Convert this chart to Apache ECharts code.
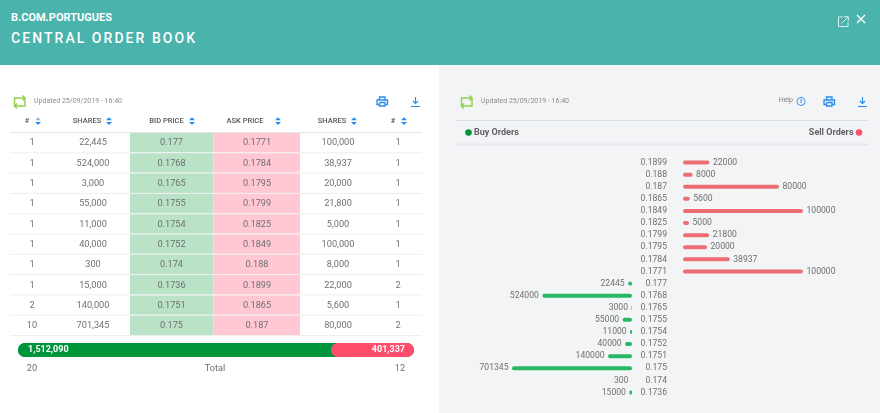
<!DOCTYPE html>
<html>
<head>
<meta charset="utf-8">
<title>Central Order Book</title>
<style>
html, body { margin: 0; padding: 0; background: #fff; overflow: hidden; }
#main { position: absolute; left: 0; top: 0; width: 880px; height: 413px; }
#head { position: absolute; left: 0; top: 0; width: 880px; height: 65px; background: #4ab3ac; color: #fff; font-family: Roboto, sans-serif; }
#head .t1 { position: absolute; left: 11px; top: 11px; font-size: 11px; font-weight: 700; letter-spacing: 0; }
#head .t2 { position: absolute; left: 11px; top: 30px; font-size: 14px; font-weight: 500; letter-spacing: 2.05px; }
#head svg { position: absolute; }
</style>
<script src="https://cdn.jsdelivr.net/npm/echarts@6/dist/echarts.min.js"></script>
</head>
<body>
<div id="main"></div>
<div id="head">
  <div class="t1">B.COM.PORTUGUES</div>
  <div class="t2">CENTRAL ORDER BOOK</div>
  <svg style="left:838px;top:16px" width="11" height="11" viewBox="0 0 11 11" fill="none" stroke="#d5f0ee" stroke-width="1"><path d="M5 1H.5v9.5H10V6"/><path d="M3.5 7.5L10 1M6 .7h4.3V5"/></svg>
  <svg style="left:856px;top:14px" width="10" height="10" viewBox="0 0 10 10" fill="none" stroke="#fff" stroke-width="1.3"><path d="M1 1l8 8M9 1l-8 8"/></svg>
</div>
<script>
// table columns
var bidCount = [1, 1, 1, 1, 1, 1, 1, 1, 2, 10];
var bidShares = [22445, 524000, 3000, 55000, 11000, 40000, 300, 15000, 140000, 701345];
var bidPrice = ['0.177', '0.1768', '0.1765', '0.1755', '0.1754', '0.1752', '0.174', '0.1736', '0.1751', '0.175'];
var askPrice = ['0.1771', '0.1784', '0.1795', '0.1799', '0.1825', '0.1849', '0.188', '0.1899', '0.1865', '0.187'];
var askShares = [100000, 38937, 20000, 21800, 5000, 100000, 8000, 22000, 5600, 80000];
var askCount = [1, 1, 1, 1, 1, 1, 1, 2, 1, 2];
var tableHeads = ['#', 'SHARES', 'BID PRICE', 'ASK PRICE', 'SHARES', '#'];

// depth chart, top to bottom
var prices = ['0.1899', '0.188', '0.187', '0.1865', '0.1849', '0.1825', '0.1799', '0.1795', '0.1784', '0.1771',
    '0.177', '0.1768', '0.1765', '0.1755', '0.1754', '0.1752', '0.1751', '0.175', '0.174', '0.1736'];
var sellOrders = [22000, 8000, 80000, 5600, 100000, 5000, 21800, 20000, 38937, 100000,
    null, null, null, null, null, null, null, null, null, null];
var buyOrders = [null, null, null, null, null, null, null, null, null, null,
    22445, 524000, 3000, 55000, 11000, 40000, 140000, 701345, 300, 15000];

var totalBuy = 1512090;
var totalSell = 401337;
var totalBuyCount = 20;
var totalSellCount = 12;
var updatedText = 'Updated 25/09/2019 - 16:40';

var font = 'Roboto';
var gray = '#6f7072';
var blue = '#2a8cf0';
var lime = '#8ed14a';

function fmt(n) {
    return n.toLocaleString('en-US');
}

// column centres, in px from the table's left edge
var colX = [22, 83, 161.5, 247, 328, 388];
var headX = [27, 87, 166.5, 245, 332, 393];
var arrowX = [38, 109, 192, 278, 354, 404];

function renderRow(params, api) {
    var i = api.value(1);
    var c = api.coord([0, i]);
    var h = api.size([0, 1])[1];
    var y = c[1];
    var left = c[0];
    var cells = [bidCount[i], fmt(bidShares[i]), bidPrice[i], askPrice[i], fmt(askShares[i]), askCount[i]];
    var kids = [
        { type: 'rect', shape: { x: left + 120, y: y - h / 2, width: 83.5, height: h - 1 }, style: { fill: '#b9e2c6' } },
        { type: 'rect', shape: { x: left + 203.5, y: y - h / 2, width: 86.5, height: h - 1 }, style: { fill: '#ffc8d3' } },
        { type: 'line', shape: { x1: left, y1: y + h / 2 - 0.5, x2: left + 412, y2: y + h / 2 - 0.5 }, style: { stroke: '#eeeeef', lineWidth: 1 } }
    ];
    cells.forEach(function (t, k) {
        kids.push({
            type: 'text',
            style: { x: left + colX[k], y: y, text: String(t), fill: gray, font: '9.2px ' + font, textAlign: 'center', textVerticalAlign: 'middle' }
        });
    });
    return { type: 'group', children: kids };
}

function txt(x, y, text, size, color, align, weight) {
    return {
        type: 'text', x: x, y: y, silent: true,
        style: { text: text, fill: color, fontFamily: font, fontSize: size, fontWeight: weight || 400, textAlign: align || 'left', textVerticalAlign: 'middle' }
    };
}

function icon(x, y, lines, color, w) {
    return {
        type: 'group', x: x, y: y, silent: true,
        children: lines.map(function (pts) {
            return { type: 'polyline', shape: { points: pts }, style: { fill: 'none', stroke: color, lineWidth: w || 1.1 } };
        })
    };
}

var refreshLines = [[[1.5, 11], [1.5, 2], [12, 2]], [[9.5, -0.5], [12, 2], [9.5, 4.5]], [[12, 2], [12, 10], [1.5, 10]], [[4, 7.5], [1.5, 10], [4, 12.5]]];
var printLines = [[[2.5, 3], [2.5, 0], [8, 0], [8, 3]], [[2.5, 7.5], [0, 7.5], [0, 3], [10.5, 3], [10.5, 7.5], [8, 7.5]], [[2.5, 5.5], [8, 5.5], [8, 9], [2.5, 9], [2.5, 5.5]]];
var downLines = [[[4.5, 0], [4.5, 6.5]], [[2, 4], [4.5, 6.5], [7, 4]], [[0, 9.5], [9, 9.5]]];

var decor = [
    { type: 'rect', shape: { x: 0, y: 65, width: 439, height: 348 }, style: { fill: '#ffffff' }, silent: true, z: -10 },
    { type: 'rect', shape: { x: 439, y: 65, width: 441, height: 348 }, style: { fill: '#f3f4f6' }, silent: true, z: -10 },
    { type: 'line', shape: { x1: 10, y1: 132.5, x2: 422, y2: 132.5 }, style: { stroke: '#e6e6e8' }, silent: true },
    { type: 'line', shape: { x1: 456, y1: 120.5, x2: 869, y2: 120.5 }, style: { stroke: '#dcdfe6' }, silent: true },
    { type: 'line', shape: { x1: 456, y1: 144.5, x2: 869, y2: 144.5 }, style: { stroke: '#e7e8ed', lineWidth: 2 }, silent: true },
    icon(13, 96, refreshLines, lime, 1.4),
    icon(460, 96, refreshLines, lime, 1.4),
    icon(377, 97, printLines, blue, 1.3),
    icon(824, 97, printLines, blue, 1.3),
    icon(411, 97, downLines, blue),
    icon(858, 97, downLines, blue),
    txt(34, 101, updatedText, 7, '#8b8c8e'),
    txt(481, 101, updatedText, 7, '#8b8c8e'),
    txt(793, 100.5, 'Help', 7, '#7f8082', 'right'),
    { type: 'circle', shape: { cx: 801, cy: 101.5, r: 4 }, style: { fill: 'none', stroke: blue, lineWidth: 0.9 }, silent: true },
    txt(801, 101.5, 'i', 6.5, blue, 'center', 700),
    { type: 'circle', shape: { cx: 468.5, cy: 132.5, r: 3.3 }, style: { fill: '#00953b' }, silent: true },
    txt(474, 132.7, 'Buy Orders', 9, '#616265', 'left', 700),
    { type: 'circle', shape: { cx: 859, cy: 132.5, r: 3.3 }, style: { fill: '#ff4d6b' }, silent: true },
    txt(853.5, 132.7, 'Sell Orders', 9, '#616265', 'right', 700),
    txt(32, 368.5, String(totalBuyCount), 9.2, gray, 'center'),
    txt(215, 368.5, 'Total', 9.2, gray, 'center'),
    txt(400, 368.5, String(totalSellCount), 9.2, gray, 'center')
];

tableHeads.forEach(function (t, k) {
    decor.push(txt(headX[k], 121.3, t, 7.5, '#55565a', 'center', 500));
    decor.push({ type: 'polygon', silent: true, shape: { points: [[arrowX[k] - 3, 120.3], [arrowX[k], 117.3], [arrowX[k] + 3, 120.3]] }, style: { fill: k === 0 ? '#9db8d8' : blue } });
    decor.push({ type: 'polygon', silent: true, shape: { points: [[arrowX[k] - 3, 122], [arrowX[k], 125], [arrowX[k] + 3, 122]] }, style: { fill: blue } });
});

var chart = echarts.init(document.getElementById('main'));
chart.setOption({
    animation: false,
    textStyle: { fontFamily: font },
    graphic: decor,
    grid: [
        { left: 10, top: 133, width: 412, height: 203 },
        { left: 18, top: 343, width: 396, height: 14 },
        { left: 512, top: 156.5, width: 120, height: 242 },
        { left: 683, top: 156.5, width: 120, height: 242 }
    ],
    xAxis: [
        { gridIndex: 0, type: 'value', min: 0, max: 412, show: false },
        { gridIndex: 1, type: 'value', min: 0, max: totalBuy + totalSell, show: false },
        { gridIndex: 2, type: 'value', min: 0, max: 701345, inverse: true, show: false },
        { gridIndex: 3, type: 'value', min: 0, max: 100000, show: false }
    ],
    yAxis: [
        { gridIndex: 0, type: 'category', inverse: true, show: false, data: bidPrice },
        { gridIndex: 1, type: 'category', show: false, data: ['Total'] },
        { gridIndex: 2, type: 'category', inverse: true, show: false, data: prices },
        {
            gridIndex: 3, type: 'category', inverse: true, data: prices,
            axisLine: { show: false }, axisTick: { show: false },
            axisLabel: { color: gray, fontSize: 8.6, margin: 16, interval: 0, fontFamily: font }
        }
    ],
    series: [
        {
            type: 'custom', xAxisIndex: 0, yAxisIndex: 0, silent: true,
            data: bidPrice.map(function (p, i) { return [0, i]; }),
            encode: { x: 0, y: 1 },
            renderItem: renderRow
        },
        {
            name: 'Buy total', type: 'bar', xAxisIndex: 1, yAxisIndex: 1, stack: 'total', barWidth: 14, silent: true,
            data: [totalBuy],
            itemStyle: { color: '#00953b', borderRadius: [7, 0, 0, 7] },
            label: { show: true, position: 'insideLeft', distance: 10, formatter: function (p) { return fmt(p.value); }, color: '#fff', fontSize: 9, fontWeight: 700, fontFamily: font }
        },
        {
            name: 'Sell total', type: 'bar', xAxisIndex: 1, yAxisIndex: 1, stack: 'total', barWidth: 14, silent: true,
            data: [totalSell],
            showBackground: true,
            backgroundStyle: { color: '#00953b', borderRadius: 7 },
            itemStyle: { color: '#ff4d6b', borderRadius: 7 },
            label: { show: true, position: 'insideRight', distance: 9, formatter: function (p) { return fmt(p.value); }, color: '#fff', fontSize: 9, fontWeight: 700, fontFamily: font }
        },
        {
            name: 'Buy Orders', type: 'bar', xAxisIndex: 2, yAxisIndex: 2, barWidth: 4, silent: true,
            data: buyOrders,
            itemStyle: { color: '#27b866', borderRadius: 2 },
            label: { show: true, position: 'left', distance: 3.5, color: gray, fontSize: 8.6, fontFamily: font }
        },
        {
            name: 'Sell Orders', type: 'bar', xAxisIndex: 3, yAxisIndex: 3, barWidth: 4, silent: true,
            data: sellOrders,
            itemStyle: { color: '#ec6e74', borderRadius: 2 },
            label: { show: true, position: 'right', distance: 3.5, color: gray, fontSize: 8.6, fontFamily: font }
        }
    ]
});
</script>
</body>
</html>
